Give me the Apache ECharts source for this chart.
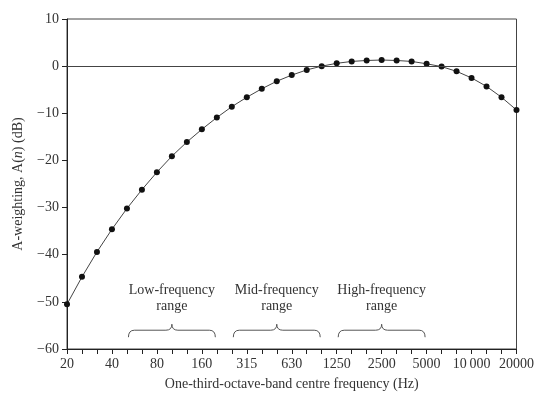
<!DOCTYPE html>
<html><head><meta charset="utf-8">
<script src="https://cdn.jsdelivr.net/npm/echarts@6/dist/echarts.min.js"></script>
<style>html,body{margin:0;padding:0;background:#fff}#c{width:537px;height:396px}</style>
</head><body><div id="c"></div>
<script>
var bands = ['20','25','31.5','40','50','63','80','100','125','160','200','250','315','400','500','630','800','1000','1250','1600','2000','2500','3150','4000','5000','6300','8000','10000','12500','16000','20000'];
var aWeight = [-50.5,-44.7,-39.4,-34.6,-30.2,-26.2,-22.5,-19.1,-16.1,-13.4,-10.9,-8.6,-6.6,-4.8,-3.2,-1.9,-0.8,0,0.6,1.0,1.2,1.3,1.2,1.0,0.5,-0.1,-1.1,-2.5,-4.3,-6.6,-9.3];
var yTicks = {min:-60, max:10, interval:10};
var ranges = [
  ['Low-frequency','range','50','200'],
  ['Mid-frequency','range','250','1000'],
  ['High-frequency','range','1250','5000']
];
var rangeData = ranges.map(function(r){return [bands.indexOf(r[2]), bands.indexOf(r[3])];});

var FONT = 'Liberation Serif';
var TXT = '#333';
var chart = echarts.init(document.getElementById('c'));
chart.setOption({
  animation:false,
  grid:{left:67,right:18,top:19,bottom:44,show:true,borderColor:'#444',borderWidth:1},
  xAxis:{
    type:'category', data:bands, boundaryGap:false,
    axisLine:{onZero:false,lineStyle:{color:'#222',width:1}},
    axisTick:{interval:0,length:5,lineStyle:{color:'#222'}},
    axisLabel:{interval:2,margin:8,color:TXT,fontFamily:FONT,fontSize:14,
      formatter:function(v){return v==='10000'?'10\u2009000':v;}},
    splitLine:{show:false},
    name:'One-third-octave-band centre frequency (Hz)', nameLocation:'middle', nameGap:28,
    nameTextStyle:{color:TXT,fontFamily:FONT,fontSize:14}
  },
  yAxis:{
    type:'value', min:yTicks.min, max:yTicks.max, interval:yTicks.interval,
    axisLine:{show:true,onZero:false,lineStyle:{color:'#222',width:1}},
    axisTick:{show:true,length:5,lineStyle:{color:'#222'}},
    axisLabel:{margin:8,color:TXT,fontFamily:FONT,fontSize:14,
      formatter:function(v){return v<0?'\u2212'+Math.abs(v):String(v);}},
    splitLine:{show:false},
    name:'{a|A-weighting, A(}{i|n}{a|) (dB)}', nameLocation:'middle', nameGap:42,
    nameTextStyle:{color:TXT,fontFamily:FONT,fontSize:14,
      rich:{a:{color:TXT,fontFamily:FONT,fontSize:14},i:{color:TXT,fontFamily:FONT,fontSize:14,fontStyle:'italic'}}}
  },
  series:[
    {type:'line', data:aWeight, symbol:'circle', symbolSize:6,
     lineStyle:{color:'#444',width:1}, itemStyle:{color:'#111'},
     markLine:{silent:true,symbol:'none',label:{show:false},lineStyle:{color:'#444',width:1,type:'solid'},data:[{yAxis:0}]}
    },
    {type:'custom', coordinateSystem:'cartesian2d', data:rangeData, clip:false,
     encode:{x:[0,1]},
     renderItem:function(params, api){
       var r0=ranges[params.dataIndex];
       var i1=api.value(0), i2=api.value(1);
       var pL=api.coord([i1,-57.5]), pR=api.coord([i2,-57.5]);
       var yb=pL[1], ym=yb-7, yt=yb-13;
       var xl=pL[0]+1.5, xr=pR[0]-1.5, xc=(xl+xr)/2, r=6;
       var path='M'+xl+' '+yb+' Q'+xl+' '+ym+' '+(xl+r)+' '+ym+' L'+(xc-r)+' '+ym+
                ' Q'+xc+' '+ym+' '+xc+' '+yt+' Q'+xc+' '+ym+' '+(xc+r)+' '+ym+
                ' L'+(xr-r)+' '+ym+' Q'+xr+' '+ym+' '+xr+' '+yb;
       var tp=api.coord([(i1+i2)/2,-49.2]);
       return {type:'group',children:[
         {type:'path',shape:{pathData:path},style:{fill:null,stroke:'#555',lineWidth:1}},
         {type:'text',x:xc,y:tp[1],style:{text:r0[0]+'\n'+r0[1],align:'center',verticalAlign:'middle',
           fill:TXT,font:'14px "Liberation Serif"',lineHeight:16}}
       ]};
     }
    }
  ]
});
</script></body></html>
